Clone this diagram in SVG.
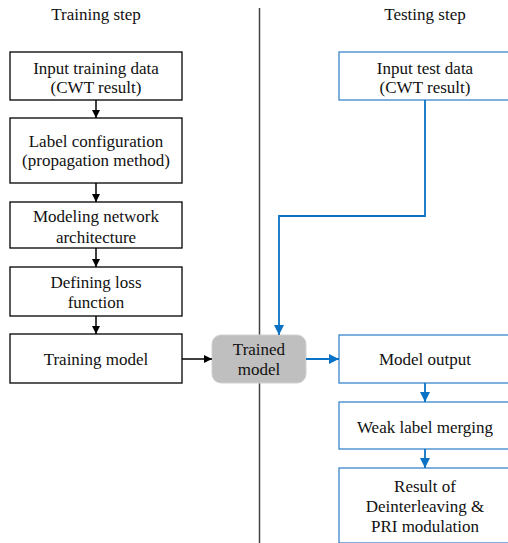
<svg xmlns="http://www.w3.org/2000/svg" width="508" height="543" viewBox="0 0 508 543">
<defs>
<style>
text{font-family:"Liberation Serif","Times New Roman",serif;font-size:17px;fill:#111;text-anchor:middle}
.bk{fill:#fff;stroke:#000;stroke-width:1.3}
.bl{fill:#fff;stroke:#3a86cc;stroke-width:1.3}
.ck{stroke:#000;stroke-width:1.5;fill:none}
.cb{stroke:#0a72c4;stroke-width:1.8;fill:none}
</style>
<marker id="ak" markerWidth="8" markerHeight="8" refX="8" refY="4" orient="auto" markerUnits="userSpaceOnUse"><path d="M0,0 L8,4 L0,8 Z" fill="#000"/></marker>
<marker id="ab" markerWidth="10" markerHeight="10" refX="10" refY="5" orient="auto" markerUnits="userSpaceOnUse"><path d="M0,0 L10,5 L0,10 Z" fill="#0a72c4"/></marker>
</defs>
<text x="96" y="20">Training step</text>
<text x="425" y="20">Testing step</text>
<line x1="259.5" y1="8" x2="259.5" y2="543" stroke="#444" stroke-width="1.5"/>
<g id="n1"><rect class="bk" x="10" y="52" width="172" height="48"/><text x="96" y="74">Input training data</text><text x="96" y="93">(CWT result)</text></g>
<g id="n2"><rect class="bk" x="10" y="118" width="172" height="65"/><text x="96" y="147">Label configuration</text><text x="96" y="166">(propagation method)</text></g>
<g id="n3"><rect class="bk" x="10" y="202" width="172" height="46"/><text x="96" y="222">Modeling network</text><text x="96" y="243">architecture</text></g>
<g id="n4"><rect class="bk" x="10" y="267" width="172" height="49"/><text x="96" y="288">Defining loss</text><text x="96" y="308">function</text></g>
<g id="n5"><rect class="bk" x="10" y="334" width="172" height="49"/><text x="96" y="365">Training model</text></g>
<g id="n6"><rect x="212" y="335" width="94" height="48" rx="9" fill="#bfbfbf" stroke="#d0d0d0" stroke-width="1"/><text x="259" y="355">Trained</text><text x="259" y="375">model</text></g>
<g id="n7"><rect class="bl" x="339" y="52" width="175" height="48"/><text x="425" y="74">Input test data</text><text x="425" y="93">(CWT result)</text></g>
<g id="n8"><rect class="bl" x="339" y="335" width="175" height="48"/><text x="425" y="365">Model output</text></g>
<g id="n9"><rect class="bl" x="339" y="402" width="175" height="47"/><text x="425" y="433">Weak label merging</text></g>
<g id="n10"><rect class="bl" x="339" y="468" width="175" height="75"/><text x="425" y="492">Result of</text><text x="425" y="512">Deinterleaving &amp;</text><text x="425" y="532">PRI modulation</text></g>
<g id="connectors">
<line class="ck" x1="96" y1="100" x2="96" y2="118" marker-end="url(#ak)"/>
<line class="ck" x1="96" y1="183" x2="96" y2="202" marker-end="url(#ak)"/>
<line class="ck" x1="96" y1="248" x2="96" y2="267" marker-end="url(#ak)"/>
<line class="ck" x1="96" y1="316" x2="96" y2="334" marker-end="url(#ak)"/>
<line class="ck" x1="182" y1="359" x2="212" y2="359" marker-end="url(#ak)"/>
<path class="cb" d="M425,100 V216 H279 V335" marker-end="url(#ab)"/>
<line class="cb" x1="306" y1="359" x2="339" y2="359" marker-end="url(#ab)"/>
<line class="cb" x1="425" y1="383" x2="425" y2="402" marker-end="url(#ab)"/>
<line class="cb" x1="425" y1="449" x2="425" y2="468" marker-end="url(#ab)"/>
</g>
</svg>
